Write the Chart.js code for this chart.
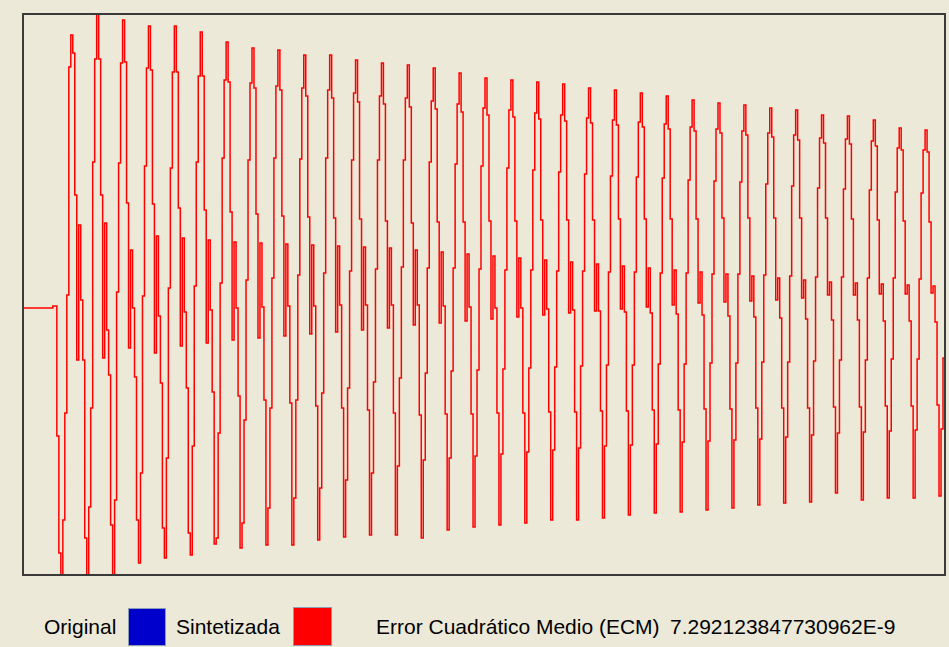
<!DOCTYPE html>
<html>
<head>
<meta charset="utf-8">
<script src="https://cdn.jsdelivr.net/npm/chart.js@4.4.0/dist/chart.umd.min.js"></script>
<style>
  html, body { margin: 0; padding: 0; background: #ECE9D8; }
  #wrap { position: relative; width: 949px; height: 647px; overflow: hidden; }
  #plot { position: absolute; left: 0; top: 0; }
  .lbl { position: absolute; top: 613px; font: 21px "Liberation Sans", Arial, sans-serif; color: #000; line-height: 28px; white-space: nowrap; }
  .swatch { position: absolute; box-sizing: border-box; border: 1px solid #8C9DB5; }
</style>
</head>
<body>
<div id="wrap">
  <canvas id="plot" width="949" height="600"></canvas>
  <span class="lbl" style="left:44px">Original</span>
  <div class="swatch" style="left:128px;top:608px;width:38px;height:38px;background:#0000CC"></div>
  <span class="lbl" style="left:176px">Sintetizada</span>
  <div class="swatch" style="left:293px;top:607px;width:39px;height:39px;background:#FF0000"></div>
  <span class="lbl" style="left:376px">Error Cuadrático Medio (ECM)</span>
  <span class="lbl" style="left:670px">7.292123847730962E-9</span>
</div>
<script>
// silence before the signal starts, then the first half cycle
const leadIn = [0, 0, 0, 0, 0, 0, 0, 0, 0, 0, 0, 0, 0, 0, 0, 2, 2, -128, -245, -267, -212];

// one row per cycle (13 samples each)
const cycleRows = [
  [-105, 13, 241, 273, 255, 113, -52, 83, 8, -52, -230, -267, -199],
  [-100, 146, 249, 294, 249, 113, -50, 85, -22, -67, -217, -267, -192],
  [16, 145, 245, 288, 246, 105, -40, 58, 0, -69, -212, -255, -165],
  [12, 142, 240, 282, 238, 104, -45, 72, -8, -75, -220, -250, -150],
  [20, 140, 236, 282, 236, 100, -38, 70, -4, -80, -225, -247, -138],
  [22, 146, 232, 276, 232, 98, -35, 68, -2, -84, -236, -230, -125],
  [25, 150, 228, 266, 226, 96, -32, 66, 0, -88, -240, -215, -112],
  [28, 148, 225, 260, 220, 94, -30, 65, 1, -92, -237, -200, -100],
  [30, 150, 222, 258, 218, 92, -28, 64, 2, -95, -237, -190, -92],
  [33, 149, 220, 253, 212, 91, -26, 63, 2, -98, -232, -180, -85],
  [35, 150, 218, 253, 210, 90, -24, 62, 3, -100, -229, -172, -80],
  [37, 148, 215, 248, 206, 89, -22, 61, 3, -102, -227, -165, -74],
  [39, 148, 212, 245, 204, 87, -20, 60, 3, -105, -227, -158, -70],
  [41, 148, 210, 243, 201, 85, -17, 58, 3, -107, -230, -152, -65],
  [40, 146, 207, 240, 199, 86, -15, 56, 2, -106, -222, -150, -63],
  [40, 144, 204, 235, 196, 86, -13, 54, 1, -106, -219, -148, -62],
  [39, 142, 200, 230, 193, 87, -11, 52, 0, -105, -217, -146, -61],
  [38, 140, 198, 228, 191, 87, -9, 50, 0, -105, -215, -144, -60],
  [38, 138, 195, 226, 189, 88, -7, 48, -1, -104, -212, -142, -59],
  [37, 136, 193, 224, 187, 88, -5, 46, -2, -104, -212, -140, -58],
  [37, 134, 190, 220, 185, 88, -3, 44, -3, -103, -210, -138, -57],
  [36, 132, 188, 218, 183, 89, -1, 42, -4, -103, -207, -137, -57],
  [36, 131, 186, 215, 181, 89, 1, 40, -5, -102, -205, -136, -56],
  [35, 130, 184, 212, 179, 89, 3, 38, -6, -102, -204, -134, -56],
  [35, 128, 181, 208, 177, 89, 5, 36, -7, -101, -202, -133, -55],
  [34, 127, 179, 205, 175, 90, 6, 34, -8, -101, -200, -132, -55],
  [34, 126, 177, 203, 173, 90, 7, 32, -9, -100, -197, -131, -54],
  [33, 124, 175, 200, 171, 90, 8, 30, -10, -100, -195, -129, -54],
  [32, 122, 173, 198, 168, 90, 10, 28, -11, -100, -194, -127, -53],
  [31, 120, 170, 193, 165, 90, 13, 26, -12, -99, -185, -125, -52],
  [31, 119, 169, 192, 164, 89, 13, 25, -12, -99, -192, -124, -52],
  [30, 118, 167, 188, 162, 88, 14, 24, -13, -98, -190, -123, -51],
  [30, 116, 160, 180, 158, 87, 14, 23, -13, -98, -190, -122, -51],
  [29, 115, 158, 178, 156, 86, 15, 22, -14, -97, -188, -121, -50]
];
const tail = [-97];

const yMin = -267;
const yMax = 294;

// the original signal matches the synthesized one (ECM ~ 7e-9), so only the red trace is visible
const sintetizada = leadIn.concat(...cycleRows, tail);

const toPoints = arr => arr.map((v, i) => ({ x: i, y: v }));

const frame = {
  id: 'frame',
  afterDraw(chart) {
    const { ctx, chartArea: a } = chart;
    ctx.save();
    ctx.strokeStyle = '#3a3a3a';
    ctx.lineWidth = 2;
    ctx.strokeRect(a.left, a.top, a.right - a.left, a.bottom - a.top);
    ctx.restore();
  }
};

new Chart(document.getElementById('plot').getContext('2d'), {
  type: 'line',
  data: {
    datasets: [{
      label: 'Sintetizada',
      data: toPoints(sintetizada),
      borderColor: '#FF0000',
      borderWidth: 1.5,
      stepped: true,
      pointRadius: 0
    }]
  },
  options: {
    responsive: false,
    animation: false,
    devicePixelRatio: 1,
    layout: { padding: { left: 23, top: 14, right: 4, bottom: 25 } },
    scales: {
      x: { type: 'linear', display: false, min: 0, max: sintetizada.length - 1 },
      y: { type: 'linear', display: false, min: yMin, max: yMax }
    },
    plugins: {
      legend: { display: false },
      tooltip: { enabled: false }
    }
  },
  plugins: [frame]
});
</script>
</body>
</html>
